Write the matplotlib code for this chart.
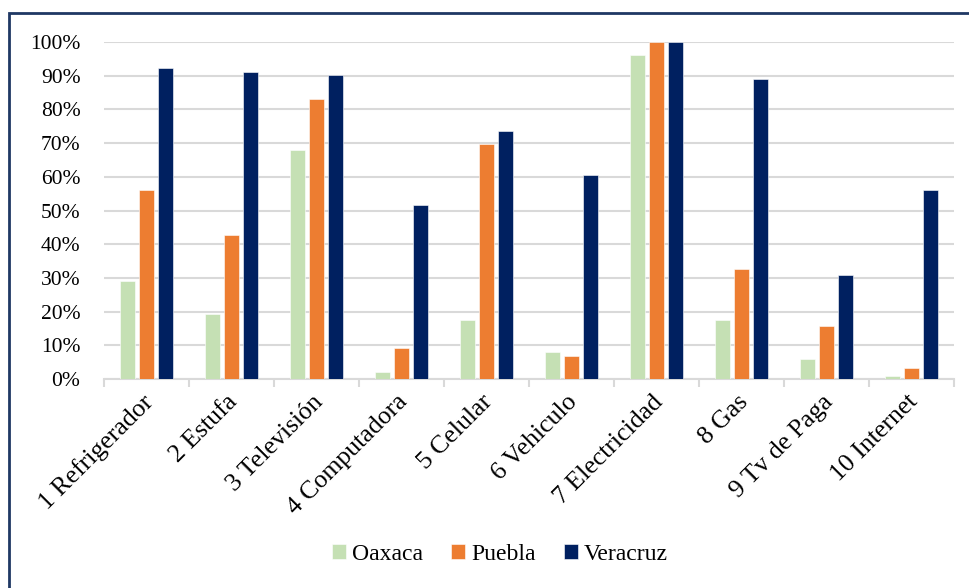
import matplotlib
matplotlib.use("Agg")
import matplotlib.pyplot as plt
import numpy as np
from matplotlib.patches import Rectangle
from matplotlib.ticker import FuncFormatter, MultipleLocator
from matplotlib.transforms import ScaledTranslation

categories = ["1 Refrigerador", "2 Estufa", "3 Televisión", "4 Computadora", "5 Celular",
              "6 Vehiculo", "7 Electricidad", "8 Gas", "9 Tv de Paga", "10 Internet"]
oaxaca = [29.1, 19.3, 68.0, 2.0, 17.5, 8.0, 96.1, 17.5, 5.9, 0.9]
puebla = [56.2, 42.7, 83.1, 9.2, 69.7, 6.8, 100.0, 32.6, 15.7, 3.3]
veracruz = [92.3, 91.1, 90.2, 51.6, 73.6, 60.5, 100.0, 89.0, 30.9, 56.0]
series_names = ["Oaxaca", "Puebla", "Veracruz"]
colors = ["#C5E0B4", "#ED7D31", "#002060"]

plt.rcParams['font.family'] = ['Liberation Serif', 'DejaVu Serif']

W, H = 969, 588
fig = plt.figure(figsize=(W / 100, H / 100), dpi=100)
ax = fig.add_axes([104 / W, 1 - 379 / H, (954 - 104) / W, (379 - 42) / H])

x = np.arange(len(categories))
width = 0.173
step = 0.224
for i, (vals, name, c) in enumerate(zip([oaxaca, puebla, veracruz], series_names, colors)):
    ax.bar(x + (i - 1) * step, vals, width, color=c, label=name,
           edgecolor='white', linewidth=0.4, zorder=3)

ax.set_xlim(-0.5, len(categories) - 0.5)
ax.set_ylim(0, 100)
ax.yaxis.set_major_locator(MultipleLocator(10))
ax.yaxis.set_major_formatter(FuncFormatter(lambda v, p: f"{int(round(v))}%"))
ax.grid(axis='y', color='#D9D9D9', linewidth=1.5, zorder=0)
ax.set_axisbelow(True)
for s in ['top', 'right', 'left']:
    ax.spines[s].set_visible(False)
ax.spines['bottom'].set_color('#D9D9D9')
ax.spines['bottom'].set_linewidth(1.5)
ax.tick_params(axis='y', length=0, labelsize=15.5, pad=17)
ax.set_xticks(np.arange(-0.5, len(categories) + 0.5, 1), minor=False)
ax.set_xticklabels([])
ax.tick_params(axis='x', which='major', length=6, width=1.5, color='#D9D9D9')
ax.set_xticks(x, minor=True)
ax.set_xticklabels(categories, minor=True, rotation=45, ha='right', va='top',
                   rotation_mode='anchor', fontsize=18.5)
ax.tick_params(axis='x', which='minor', length=0, pad=10)
offset = ScaledTranslation(-5 / 100, 2 / 100, fig.dpi_scale_trans)
for lbl in ax.get_xticklabels(minor=True):
    lbl.set_transform(lbl.get_transform() + offset)

leg = fig.legend(loc='center', bbox_to_anchor=(500 / W, 1 - 554 / H), ncol=3,
                 frameon=False, prop={'family': 'Liberation Serif', 'size': 17},
                 handlelength=0.6, handleheight=0.6,
                 handletextpad=0.25, columnspacing=1.2)

fig.patches.append(Rectangle((9 / W, -0.1), 1.2, 1 - 13 / H + 0.1, transform=fig.transFigure,
                             fill=False, edgecolor='#1F3864', linewidth=2, zorder=10))

fig.savefig("out.png", dpi=100)
